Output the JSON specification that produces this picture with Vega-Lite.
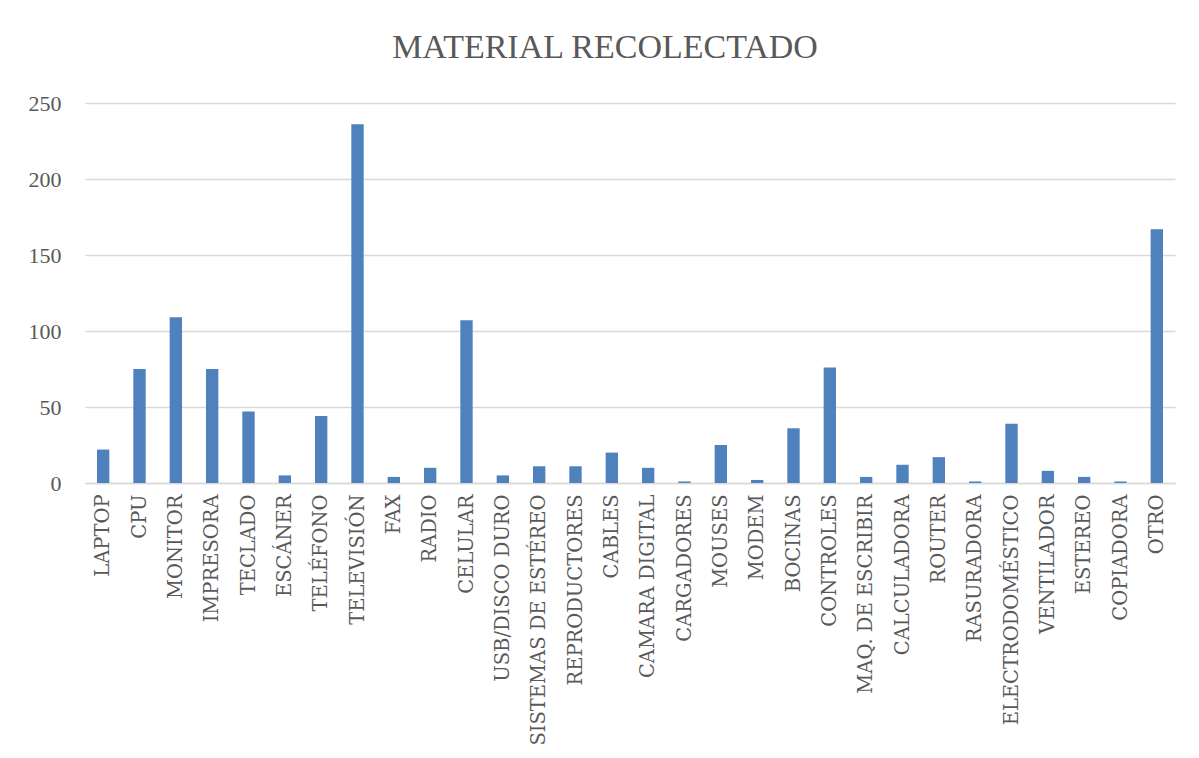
{
  "$schema": "https://vega.github.io/schema/vega-lite/v6.json",
  "autosize": "none",
  "width": 1090,
  "height": 380,
  "padding": {"left": 85, "top": 103, "right": 24, "bottom": 275},
  "background": "white",
  "title": {
    "text": "MATERIAL RECOLECTADO",
    "font": "Liberation Serif",
    "fontSize": 34,
    "fontWeight": "normal",
    "color": "#595959",
    "anchor": "middle",
    "dx": -25,
    "offset": 27
  },
  "data": {
    "values": [
      {"material": "LAPTOP", "cantidad": 22},
      {"material": "CPU", "cantidad": 75},
      {"material": "MONITOR", "cantidad": 109},
      {"material": "IMPRESORA", "cantidad": 75},
      {"material": "TECLADO", "cantidad": 47},
      {"material": "ESCÁNER", "cantidad": 5},
      {"material": "TELÉFONO", "cantidad": 44},
      {"material": "TELEVISIÓN", "cantidad": 236},
      {"material": "FAX", "cantidad": 4},
      {"material": "RADIO", "cantidad": 10},
      {"material": "CELULAR", "cantidad": 107},
      {"material": "USB/DISCO DURO", "cantidad": 5},
      {"material": "SISTEMAS DE ESTÉREO", "cantidad": 11},
      {"material": "REPRODUCTORES", "cantidad": 11},
      {"material": "CABLES", "cantidad": 20},
      {"material": "CAMARA DIGITAL", "cantidad": 10},
      {"material": "CARGADORES", "cantidad": 1},
      {"material": "MOUSES", "cantidad": 25},
      {"material": "MODEM", "cantidad": 2},
      {"material": "BOCINAS", "cantidad": 36},
      {"material": "CONTROLES", "cantidad": 76},
      {"material": "MAQ. DE ESCRIBIR", "cantidad": 4},
      {"material": "CALCULADORA", "cantidad": 12},
      {"material": "ROUTER", "cantidad": 17},
      {"material": "RASURADORA", "cantidad": 1},
      {"material": "ELECTRODOMÉSTICO", "cantidad": 39},
      {"material": "VENTILADOR", "cantidad": 8},
      {"material": "ESTEREO", "cantidad": 4},
      {"material": "COPIADORA", "cantidad": 1},
      {"material": "OTRO", "cantidad": 167}
    ]
  },
  "mark": {"type": "bar", "color": "#4F81BD"},
  "encoding": {
    "x": {
      "field": "material",
      "type": "nominal",
      "sort": null,
      "scale": {"paddingInner": 0.66, "paddingOuter": 0.33},
      "axis": {
        "title": null,
        "labelAngle": -90,
        "labelFont": "DejaVu Serif",
        "labelFontSize": 19.5,
        "labelColor": "#595959",
        "labelPadding": 11,
        "ticks": false,
        "domainColor": "#D9D9D9",
        "domainWidth": 1.5,
        "labelLimit": 400
      }
    },
    "y": {
      "field": "cantidad",
      "type": "quantitative",
      "scale": {"domain": [0, 250]},
      "axis": {
        "title": null,
        "values": [0, 50, 100, 150, 200, 250],
        "labelFont": "Liberation Serif",
        "labelFontSize": 22,
        "labelColor": "#595959",
        "labelPadding": 24,
        "ticks": false,
        "domain": false,
        "gridColor": "#D9D9D9",
        "gridWidth": 1.5
      }
    }
  },
  "config": {"view": {"stroke": null}}
}
